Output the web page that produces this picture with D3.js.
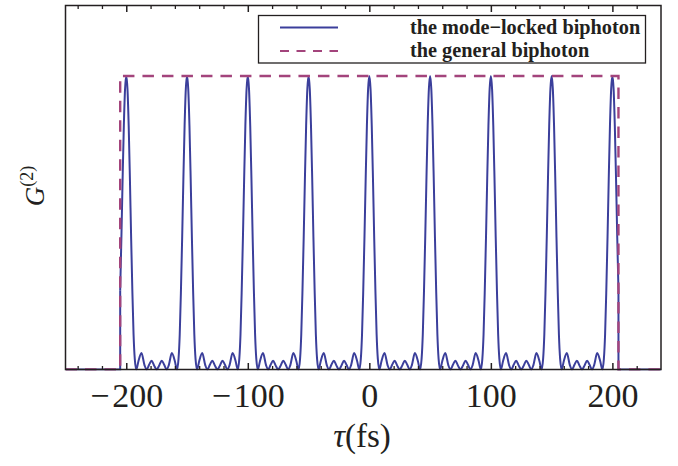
<!DOCTYPE html>
<html>
<head>
<meta charset="utf-8">
<script src="https://cdn.jsdelivr.net/npm/d3@7"></script>
<style>
  body { margin: 0; background: #fff; }
  text { font-family: "Liberation Serif", "DejaVu Serif", serif; fill: #231f20; }
</style>
</head>
<body>
<div id="chart"></div>
<script>
// peak positions of the mode-locked biphoton (fs)
const peakCenters = [-200, -150, -100, -50, 0, 50, 100, 150, 200];
// shape of one peak: offset from the peak (fs) and height (peak = 1)
const lobeOffsets = [0, 1, 2, 3, 4, 5, 6, 7, 8.3, 10, 12.5, 15, 16.7, 18.8, 20.8, 22.9, 25];
const lobeValues = [1, 0.955, 0.83, 0.65, 0.45, 0.27, 0.12, 0.036, 0, 0.028, 0.056, 0.015, 0, 0.016, 0.03, 0.014, 0];
// the general biphoton: a flat window
const windowTau = [-250, -205, -205, 205, 205, 240];
const windowG2 = [0, 0, 1, 1, 0, 0];
// mode-locked curve is cut by the same window edges
const edgeG2 = 0.27;

const majorTicks = [-200, -100, 0, 100, 200];
const minorTicks = [-240, -220, -180, -160, -140, -120, -80, -60, -40, -20, 20, 40, 60, 80, 120, 140, 160, 180, 220];
const legendLabels = ["the mode\u2212locked biphoton", "the general biphoton"];

const width = 678, height = 466;
const margin = { top: 5.5, right: 17, bottom: 96.5, left: 65.5 };
const innerW = width - margin.left - margin.right;
const innerH = height - margin.top - margin.bottom;

const blue = "#3b3f9b";
const purple = "#a3447c";

const svg = d3.select("#chart")
    .append("svg")
    .attr("width", width)
    .attr("height", height);

const g = svg.append("g")
    .attr("transform", `translate(${margin.left},${margin.top})`);

const x = d3.scaleLinear().domain([-250, 240]).range([0, innerW]);
const y = d3.scaleLinear().domain([0, 1.24]).range([innerH, 0]);

// build the mode-locked series from the peak shape
const seen = new Map();
peakCenters.forEach(c => {
    lobeOffsets.forEach((o, i) => {
        [c - o, c + o].forEach(t => {
            if (t > windowTau[1] && t < windowTau[3]) seen.set(t.toFixed(2), { t: t, v: lobeValues[i] });
        });
    });
});
const modeLocked = Array.from(seen.values());
modeLocked.push({ t: windowTau[1], v: edgeG2 }, { t: windowTau[3], v: edgeG2 });
modeLocked.sort((a, b) => a.t - b.t);

g.append("clipPath").attr("id", "plotclip")
    .append("rect").attr("width", innerW).attr("height", innerH + 2).attr("y", -1);

const plot = g.append("g").attr("clip-path", "url(#plotclip)");

const line = d3.line().x(d => x(d.t)).y(d => y(d.v));

// outside the window the curve is flat
plot.append("path")
    .datum([{ t: windowTau[0], v: 0 }, { t: windowTau[1], v: 0 }, { t: windowTau[1], v: edgeG2 }])
    .attr("fill", "none").attr("stroke", blue).attr("stroke-width", 2)
    .attr("d", line);
plot.append("path")
    .datum([{ t: windowTau[3], v: edgeG2 }, { t: windowTau[4], v: 0 }, { t: windowTau[5], v: 0 }])
    .attr("fill", "none").attr("stroke", blue).attr("stroke-width", 2)
    .attr("d", line);

plot.append("path")
    .datum(modeLocked)
    .attr("fill", "none")
    .attr("stroke", blue)
    .attr("stroke-width", 2)
    .attr("stroke-linejoin", "round")
    .attr("d", line.curve(d3.curveMonotoneX));

// general biphoton
plot.append("path")
    .datum(windowTau.map((t, i) => ({ t: t, v: windowG2[i] })))
    .attr("fill", "none")
    .attr("stroke", purple)
    .attr("stroke-width", 2.4)
    .attr("stroke-dasharray", "11.5,8")
    .attr("d", d3.line().x(d => x(d.t)).y(d => y(d.v)));

// frame
g.append("rect")
    .attr("width", innerW).attr("height", innerH)
    .attr("fill", "none").attr("stroke", "#231f20").attr("stroke-width", 1.5);

// ticks
const bottomMajor = g.append("g")
    .attr("transform", `translate(0,${innerH})`)
    .call(d3.axisBottom(x).tickValues(majorTicks).tickSizeInner(-6.5).tickSizeOuter(0).tickPadding(13)
        .tickFormat(d => d < 0 ? "\u2212\u200a" + Math.abs(d) : String(d)));
bottomMajor.select(".domain").remove();
bottomMajor.selectAll("line").attr("stroke", "#231f20").attr("stroke-width", 1.5);
bottomMajor.selectAll("text").attr("font-size", 34).attr("fill", "#231f20")
    .style("font-family", "'Liberation Serif', serif");

const bottomMinor = g.append("g")
    .attr("transform", `translate(0,${innerH})`)
    .call(d3.axisBottom(x).tickValues(minorTicks).tickSizeInner(-3.5).tickSizeOuter(0).tickFormat(""));
bottomMinor.select(".domain").remove();
bottomMinor.selectAll("line").attr("stroke", "#231f20").attr("stroke-width", 1.3);

const topMajor = g.append("g")
    .call(d3.axisTop(x).tickValues(majorTicks).tickSizeInner(-6.5).tickSizeOuter(0).tickFormat(""));
topMajor.select(".domain").remove();
topMajor.selectAll("line").attr("stroke", "#231f20").attr("stroke-width", 1.5);

const topMinor = g.append("g")
    .call(d3.axisTop(x).tickValues(minorTicks).tickSizeInner(-3.5).tickSizeOuter(0).tickFormat(""));
topMinor.select(".domain").remove();
topMinor.selectAll("line").attr("stroke", "#231f20").attr("stroke-width", 1.3);

// axis titles
const xTitle = svg.append("text")
    .attr("x", 362)
    .attr("y", 447)
    .attr("text-anchor", "middle")
    .attr("font-size", 33);
xTitle.append("tspan").attr("font-style", "italic").text("\u03c4");
xTitle.append("tspan").text("(fs)");

const yTitle = svg.append("text")
    .attr("transform", "translate(44,186) rotate(-90)")
    .attr("text-anchor", "middle")
    .attr("font-size", 27);
yTitle.append("tspan").attr("font-style", "italic").text("G");
yTitle.append("tspan").attr("font-size", 18).attr("dy", -11).text("(2)");

// legend
const legend = svg.append("g");
legend.append("rect")
    .attr("x", 258.5).attr("y", 15.5).attr("width", 387).attr("height", 47.5)
    .attr("fill", "#fff").attr("stroke", "#231f20").attr("stroke-width", 1.3);

const legendStyles = [
    { color: blue, dash: null, w: 2 },
    { color: purple, dash: "9,7.5", w: 2.2 }
];
legendLabels.forEach((label, i) => {
    const ly = 27.5 + i * 23.5;
    legend.append("line")
        .attr("x1", 280).attr("x2", 338).attr("y1", ly).attr("y2", ly)
        .attr("stroke", legendStyles[i].color)
        .attr("stroke-width", legendStyles[i].w)
        .attr("stroke-dasharray", legendStyles[i].dash);
    legend.append("text")
        .attr("x", 410).attr("y", ly + 6)
        .attr("font-size", 20.3)
        .attr("font-weight", "bold")
        .text(label);
});
</script>
</body>
</html>
